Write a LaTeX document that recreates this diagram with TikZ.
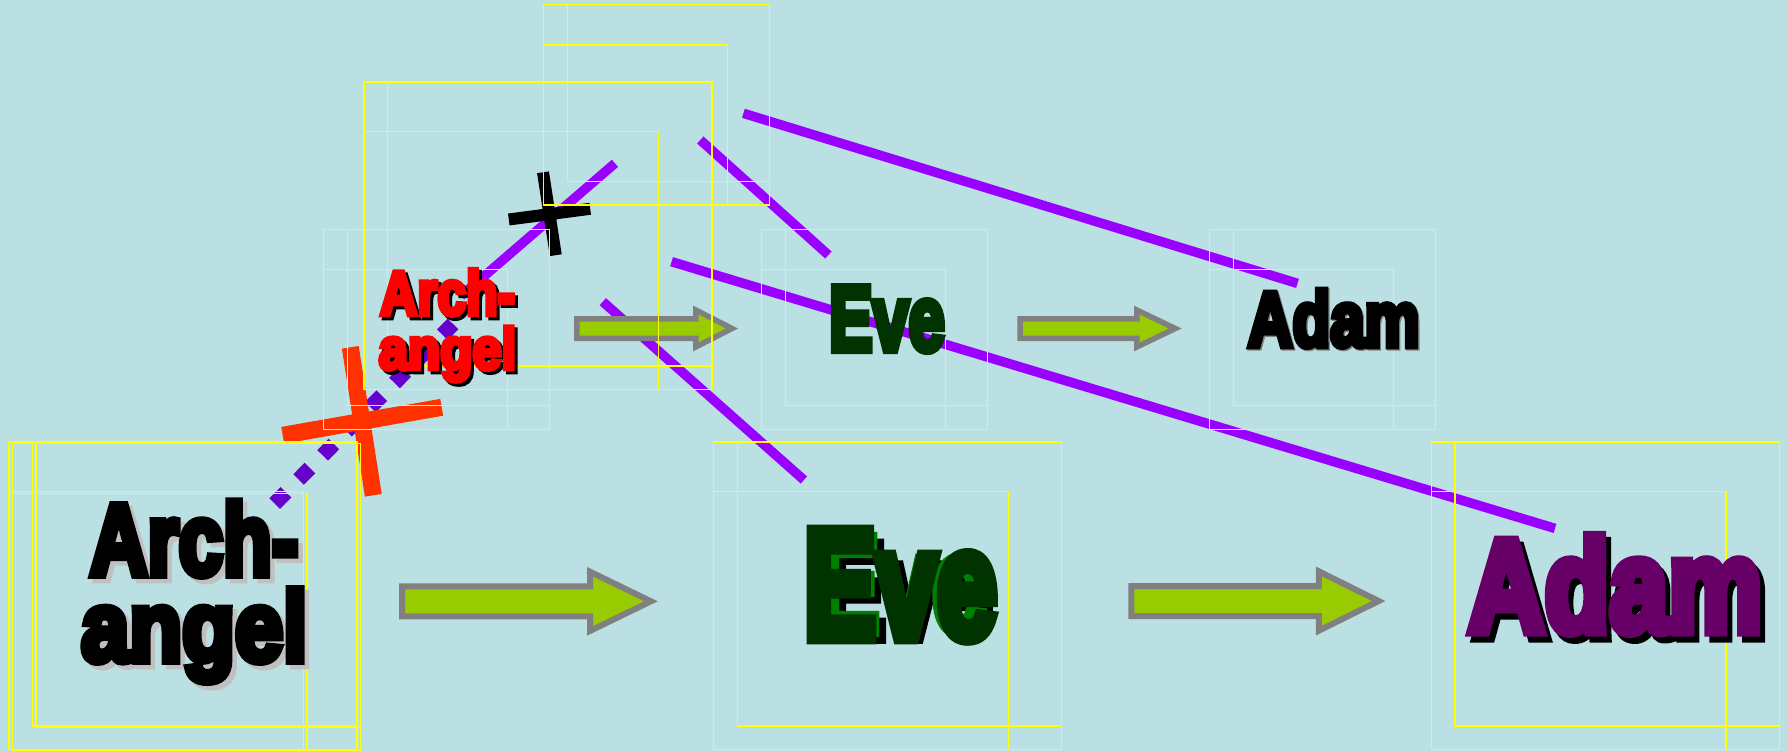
\documentclass[tikz,border=0pt]{standalone}
\usepackage{fontspec}
\usepackage{graphicx}
\newfontfamily\impfont{Liberation Sans Bold}[FakeBold=8]
\definecolor{bg}{HTML}{BBE0E3}
\definecolor{yel}{HTML}{FFFF00}
\definecolor{lpurple}{HTML}{9900FF}
\definecolor{dpurple}{HTML}{6600CC}
\definecolor{xorange}{HTML}{FF3300}
\definecolor{afill}{HTML}{99CC00}
\definecolor{aline}{HTML}{808080}
\definecolor{dkgreen}{HTML}{003300}
\definecolor{mgreen}{HTML}{008000}
\definecolor{plum}{HTML}{660066}
\definecolor{shgray}{HTML}{C0C0C0}
\newcommand{\rtxt}[3]{\resizebox{#1pt}{#2pt}{#3}}
\newcommand{\ygroup}[8]{%
  \draw[yrect] (#1,#2) rectangle (#3,#4);
  \draw[yrect] (#1,#6) rectangle (#5,#4);
  \draw[yrect] (#7,#2) rectangle (#3,#8);}
\begin{document}
\begin{tikzpicture}[x=1pt,y=-1pt,
  yrect/.style={draw=yel, line width=1.5pt},
  pline/.style={draw=lpurple, line width=9.5pt},
  dotline/.style={draw=dpurple, line width=15pt, dash pattern=on 16pt off 18pt},
  blackbar/.style={draw=black, line width=12pt},
  orangebar/.style={draw=xorange, line width=17pt},
  smallarrow/.style={draw=aline, fill=afill, line width=5.5pt, line join=miter},
  bigarrow/.style={draw=aline, fill=afill, line width=6pt, line join=miter},
  txt/.style={inner sep=0pt, outer sep=0pt, align=center, font=\impfont},
]
\useasboundingbox (0,0) rectangle (1787,751);
\fill[bg] (0,0) rectangle (1787,751);

% purple lines
\coordinate (l1a) at (615,163.3);   \coordinate (l1b) at (461,296);
\coordinate (l2a) at (700.3,140);   \coordinate (l2b) at (828.4,255);
\coordinate (l3a) at (743.4,113.3); \coordinate (l3b) at (1297.5,283.4);
\coordinate (l4a) at (671.6,261.7); \coordinate (l4b) at (1555,528.4);
\coordinate (l5a) at (602.8,301.7); \coordinate (l5b) at (803.9,480);
\draw[pline] (l1a) -- (l1b);
\draw[pline] (l2a) -- (l2b);
\draw[pline] (l3a) -- (l3b);
\draw[pline] (l4a) -- (l4b);
\draw[pline] (l5a) -- (l5b);

% dotted line
\coordinate (d1) at (274.7,503.6); \coordinate (d2) at (453,324);
\draw[dotline] (d1) -- (d2);

% crosses
\coordinate (b1a) at (543,172.3);  \coordinate (b1b) at (555.8,255.2);
\coordinate (b2a) at (508.8,219.5); \coordinate (b2b) at (590.2,208.8);
\draw[blackbar] (b1a) -- (b1b);
\draw[blackbar] (b2a) -- (b2b);
\coordinate (o1a) at (350.3,347.3); \coordinate (o1b) at (373.3,495.3);
\coordinate (o2a) at (282.7,435.3); \coordinate (o2b) at (441.7,407.3);
\draw[orangebar] (o1a) -- (o1b);
\draw[orangebar] (o2a) -- (o2b);

% block arrows
\draw[smallarrow] (576.75,318.75) -- (695.75,318.75) -- (695.75,310) -- (732,328.5)
  -- (695.75,347) -- (695.75,338.25) -- (576.75,338.25) -- cycle;
\draw[smallarrow] (1020.15,318.75) -- (1136.75,318.75) -- (1136.75,310) -- (1175.3,328.5)
  -- (1136.75,347) -- (1136.75,338.25) -- (1020.15,338.25) -- cycle;
\draw[bigarrow] (402.2,586.3) -- (590,586.3) -- (590,571.7) -- (650.9,601.3)
  -- (590,630.9) -- (590,616.3) -- (402.2,616.3) -- cycle;
\draw[bigarrow] (1131.3,586) -- (1318.9,586) -- (1318.9,571.4) -- (1378.6,601)
  -- (1318.9,630.6) -- (1318.9,616) -- (1131.3,616) -- cycle;

% yellow frames
\ygroup{543.3}{4.6}{769.3}{205}{727.3}{45}{567.3}{181.6}
\ygroup{364}{82}{712}{389.5}{658.7}{131.7}{387.7}{366}
\ygroup{323.3}{229.3}{549.3}{429.3}{507.3}{269.3}{347.3}{405.7}
\ygroup{761.3}{229.3}{987.3}{429.3}{945.3}{269.3}{785.3}{405.7}
\ygroup{1209.3}{229.3}{1435.3}{429.3}{1393.3}{269.3}{1233.3}{405.7}
\ygroup{9}{442}{357}{749.5}{303.7}{491.7}{32.7}{726}
\ygroup{12.5}{443.6}{360.5}{751.1}{307.2}{493.3}{36.2}{727.6}
\ygroup{713.7}{442}{1061.7}{749.5}{1008.4}{491.7}{737.4}{726}
\ygroup{1431.5}{442}{1779.5}{749.5}{1726.2}{491.7}{1455.2}{726}

% texts
\node[txt, anchor=north, text=shgray, font=\impfont\fontsize{20pt}{86.1pt}\selectfont]
  (bigArchS) at (198.7,505.9) {\rtxt{208.5}{73.5}{Arch-}\\\rtxt{225.9}{71.9}{angel}};
\node[txt, anchor=north, text=black, font=\impfont\fontsize{20pt}{86.1pt}\selectfont]
  (bigArch) at (194.2,501.4) {\rtxt{208.5}{73.5}{Arch-}\\\rtxt{225.9}{71.9}{angel}};

\node[txt, anchor=north, text=black, font=\impfont\fontsize{20pt}{54.2pt}\selectfont]
  (smArchS) at (450.5,272.5) {\rtxt{134.9}{45.4}{Arch-}\\\rtxt{137.6}{42.3}{angel}};
\node[txt, anchor=north, text=red, font=\impfont\fontsize{20pt}{54.2pt}\selectfont]
  (smArch) at (447.5,269.5) {\rtxt{134.9}{45.4}{Arch-}\\\rtxt{137.6}{42.3}{angel}};

\node[txt, anchor=base, text=dkgreen] (smEve) at (887,350.45) {\rtxt{115.5}{63.6}{Eve}};

\node[txt, anchor=base, text=aline] (smAdamS) at (1335,347.45) {\rtxt{171.7}{56.3}{Adam}};
\node[txt, anchor=base, text=black] (smAdam) at (1333.7,346.15) {\rtxt{171.7}{56.3}{Adam}};

\node[txt, anchor=base, text=black] (bigEveS) at (907.2,638.3) {\rtxt{170.2}{94.2}{Eve}};
\node[txt, anchor=base, text=mgreen] (bigEveG) at (900.5,631.6) {\rtxt{170.2}{94.2}{Eve}};
\node[txt, anchor=base, text=dkgreen] (bigEve) at (900.5,638) {\rtxt{193.5}{107}{Eve}};

\node[txt, anchor=base, text=black] (bigAdamS) at (1620.3,637.4) {\rtxt{294.3}{95.3}{Adam}};
\node[txt, anchor=base, text=plum] (bigAdam) at (1615.3,631.4) {\rtxt{294.3}{95.3}{Adam}};
\end{tikzpicture}
\end{document}
